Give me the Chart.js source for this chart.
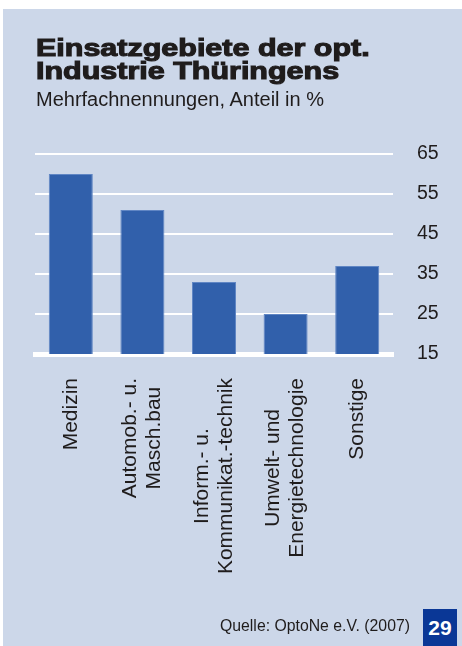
<!DOCTYPE html>
<html>
<head>
<meta charset="utf-8">
<script src="https://cdn.jsdelivr.net/npm/chart.js@4/dist/chart.umd.min.js"></script>
<style>
  html, body { margin: 0; padding: 0; background: #fff; }
  #page { position: relative; width: 462px; height: 646px; overflow: hidden; }
  #panel { position: absolute; left: 3px; top: 9px; right: 0; bottom: 0; background: #ccd7e9; }
  #chart { position: absolute; left: 0; top: 0; }
  .txt { position: absolute; white-space: nowrap; font-family: "Liberation Sans", Arial, sans-serif; color: #1f1c1c; }
  .title { left: 36px; font-size: 24px; line-height: 24px; font-weight: bold;
           transform-origin: 0 0; transform: scaleX(1.27); -webkit-text-stroke: 1.1px #1f1c1c; }
  #t1 { top: 36px; }
  #t2 { top: 59px; }
  #sub { left: 36px; top: 89px; font-size: 20px; line-height: 20px; }
  #src { left: 220px; top: 618px; font-size: 15.8px; line-height: 16px; }
  #pg { position: absolute; left: 423px; top: 609px; width: 34px; height: 37px; background: #0a3796;
        color: #fff; font-family: "Liberation Sans", Arial, sans-serif; font-weight: bold; font-size: 21px;
        line-height: 37px; text-align: center; }
</style>
</head>
<body>
<div id="page">
  <div id="panel"></div>
  <canvas id="chart" width="462" height="646"></canvas>
  <div class="txt title" id="t1">Einsatzgebiete der opt.</div>
  <div class="txt title" id="t2">Industrie Thüringens</div>
  <div class="txt" id="sub">Mehrfachnennungen, Anteil in %</div>
  <div class="txt" id="src">Quelle: OptoNe e.V. (2007)</div>
  <div id="pg">29</div>
</div>
<script>
// data
const categories = [
  ["Medizin"],
  ["Automob.- u.", "Masch.bau"],
  ["Inform.- u.", "Kommunikat.-technik"],
  ["Umwelt- und", "Energietechnologie"],
  ["Sonstige"]
];
const shares = [60, 51, 33, 25, 37];
const yMin = 15, yMax = 65, yStep = 10;

const textColor = "#1f1c1c";

// vertical category labels, lines centred on each other, top end just under the axis
const xLabels = {
  id: "xLabels",
  afterDraw(chart) {
    const ctx = chart.ctx;
    const xs = chart.scales.x;
    ctx.save();
    ctx.font = '21px "Liberation Sans", Arial, sans-serif';
    ctx.fillStyle = textColor;
    ctx.textAlign = "center";
    ctx.textBaseline = "middle";
    categories.forEach((lines, i) => {
      const w = Math.max(...lines.map(l => ctx.measureText(l).width));
      ctx.save();
      ctx.translate(xs.getPixelForTick(i), chart.chartArea.bottom + 24);
      ctx.rotate(-Math.PI / 2);
      lines.forEach((l, j) => ctx.fillText(l, -w / 2, (j - (lines.length - 1) / 2) * 24));
      ctx.restore();
    });
    ctx.restore();
  }
};

new Chart(document.getElementById("chart"), {
  type: "bar",
  data: {
    labels: categories,
    datasets: [{
      data: shares,
      backgroundColor: "#3160ab",
      borderColor: "#6086c4",
      borderWidth: 1,
      barPercentage: 0.615,
      categoryPercentage: 1
    }]
  },
  options: {
    responsive: false,
    animation: false,
    layout: { padding: { left: 35, top: 154, right: 0, bottom: 292 } },
    plugins: { legend: { display: false }, tooltip: { enabled: false } },
    scales: {
      x: {
        z: 1,
        grid: { display: false, drawTicks: false },
        ticks: { display: false },
        border: { display: true, color: "#ffffff", width: 5 },
        afterFit: s => { s.height = 0; }
      },
      y: {
        position: "right",
        min: yMin,
        max: yMax,
        ticks: {
          stepSize: yStep,
          padding: 24,
          color: textColor,
          font: { family: '"Liberation Sans", Arial, sans-serif', size: 19.5 }
        },
        grid: { color: "#ffffff", lineWidth: 2, drawTicks: false },
        border: { display: false },
        afterFit: s => { s.width = 69; }
      }
    }
  },
  plugins: [xLabels]
});
</script>
</body>
</html>
